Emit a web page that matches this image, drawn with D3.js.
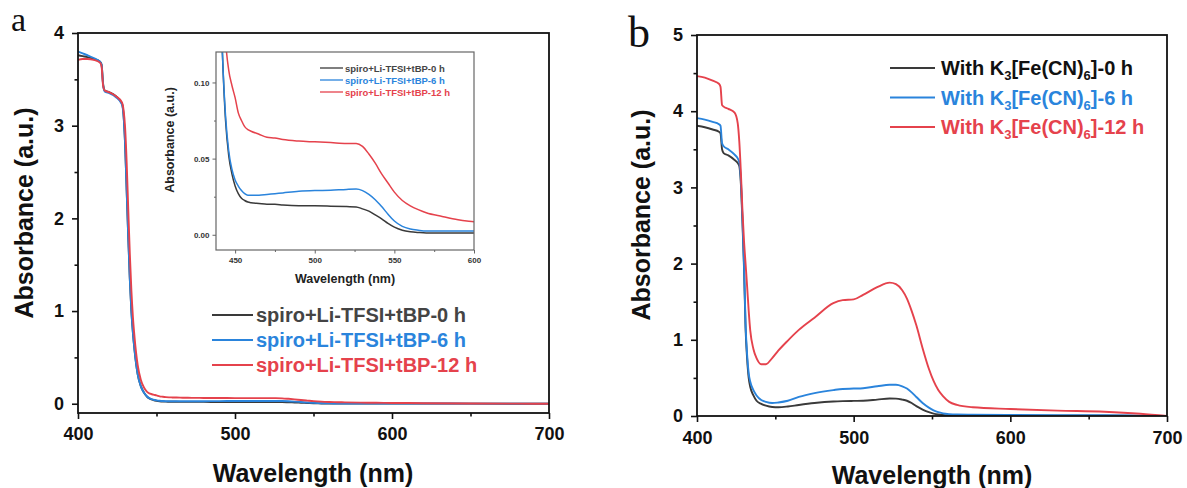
<!DOCTYPE html>
<html><head><meta charset="utf-8">
<script src="https://cdn.jsdelivr.net/npm/d3@7"></script>
<style>body{margin:0;background:#fff}svg{display:block}text{font-family:"Liberation Sans",Arial,Helvetica,sans-serif}text.serif{font-family:"Liberation Serif","DejaVu Serif","Times New Roman",serif}</style>
</head><body>
<svg id="c" width="1187" height="488"></svg>
<script>
// ---------- Panel a data (shared by main plot and inset) ----------
const lamA = [400,403,406,410,414,415,416,417,420,424,428,429,430,431,432,433,434,435,436,438,440,442,444,446,448,450,452,454,456,458,460,465,470,475,480,490,500,510,520,526,530,534,538,542,546,550,555,560,565,570,580,590,600,620,650,680,700];
const a0h = [3.76,3.75,3.74,3.72,3.69,3.66,3.45,3.38,3.36,3.32,3.24,3.12,2.8,2.3,1.8,1.35,1.0,0.76,0.58,0.32,0.19,0.12,0.075,0.052,0.04,0.032,0.027,0.024,0.0225,0.0215,0.021,0.0205,0.020,0.020,0.0195,0.019,0.019,0.0188,0.0185,0.0183,0.017,0.0155,0.013,0.0105,0.0075,0.005,0.003,0.002,0.0015,0.0012,0.0012,0.0012,0.0012,0.001,0.0008,0.0005,0.0003];
const a6h = [3.80,3.78,3.76,3.73,3.69,3.66,3.44,3.37,3.35,3.31,3.23,3.11,2.8,2.3,1.8,1.35,1.0,0.76,0.58,0.32,0.19,0.12,0.078,0.055,0.043,0.036,0.032,0.029,0.027,0.026,0.026,0.026,0.0265,0.027,0.0275,0.0285,0.029,0.0292,0.0298,0.030,0.029,0.0265,0.023,0.0185,0.0135,0.009,0.0055,0.0038,0.003,0.0025,0.0025,0.0025,0.0025,0.002,0.0015,0.001,0.0005];
const a12h = [3.71,3.72,3.72,3.71,3.68,3.64,3.43,3.38,3.36,3.32,3.25,3.17,2.98,2.6,2.1,1.62,1.22,0.93,0.72,0.42,0.26,0.175,0.128,0.108,0.098,0.09,0.08,0.075,0.071,0.069,0.068,0.066,0.064,0.0635,0.0625,0.0615,0.061,0.0605,0.060,0.060,0.058,0.053,0.047,0.040,0.034,0.028,0.0225,0.019,0.0165,0.0145,0.012,0.0098,0.0085,0.006,0.003,0.001,0.0];
const legendA = ["spiro+Li-TFSI+tBP-0 h","spiro+Li-TFSI+tBP-6 h","spiro+Li-TFSI+tBP-12 h"];

// ---------- Panel b data ----------
const lamB = [400,405,410,414,415,416,417,420,424,426,427,428,429,430,431,432,433,434,436,438,441,444,448,452,458,465,475,487,493,500,506,515,523,527,531,534,537,540,544,548,551,554,557,561,566,576,600,630,660,683,700];
const b0h = [3.81,3.79,3.76,3.73,3.71,3.50,3.45,3.42,3.36,3.32,3.28,3.05,2.55,1.95,1.15,0.75,0.5,0.38,0.27,0.2,0.16,0.135,0.118,0.115,0.125,0.145,0.17,0.19,0.195,0.198,0.2,0.215,0.23,0.228,0.215,0.2,0.17,0.13,0.085,0.05,0.032,0.02,0.013,0.009,0.007,0.006,0.005,0.004,0.003,0.002,0.0];
const b6h = [3.91,3.89,3.86,3.83,3.81,3.58,3.54,3.50,3.43,3.38,3.33,3.1,2.6,2.0,1.2,0.8,0.56,0.45,0.34,0.27,0.21,0.185,0.17,0.178,0.2,0.25,0.3,0.34,0.355,0.36,0.365,0.39,0.41,0.41,0.39,0.36,0.31,0.25,0.17,0.11,0.075,0.05,0.035,0.025,0.02,0.018,0.015,0.012,0.009,0.005,0.0];
const b12h = [4.46,4.44,4.40,4.36,4.32,4.08,4.06,4.03,3.98,3.84,3.6,3.2,2.7,2.3,2.0,1.7,1.38,1.12,0.88,0.76,0.68,0.68,0.76,0.86,0.99,1.13,1.29,1.48,1.52,1.53,1.59,1.69,1.75,1.73,1.65,1.54,1.38,1.19,0.89,0.62,0.46,0.34,0.26,0.185,0.145,0.114,0.092,0.07,0.056,0.03,0.0];
const legendB = [["With K","3","[Fe(CN)","6","]-0 h"],["With K","3","[Fe(CN)","6","]-6 h"],["With K","3","[Fe(CN)","6","]-12 h"]];

// ---------- ticks ----------
const xMajor = [400,500,600,700];
const xMinor = [450,550,650];
const yMajorA = [0,1,2,3,4];
const yMinorA = [0.5,1.5,2.5,3.5];
const yMajorB = [0,1,2,3,4,5];
const yMinorB = [0.5,1.5,2.5,3.5,4.5];
const insXMajor = [450,500,550,600];
const insXMinor = [475,525,575];
const insYMajor = [0,0.05,0.10];
const insYMinor = [0.025,0.075];

const colors = ["#3a3a3a","#2a84dc","#e5424c"];
const textColorsA = ["#444444","#2a84dc","#e5424c"];
const textColorsB = ["#111111","#2a84dc","#e5424c"];

const svg = d3.select("#c");

function series(lam, ys){ return ys.map((y,i)=>({x:lam[i], y})); }

function drawFrame(g, x, y, o){
  const [x0,x1] = x.range(), [yb,yt] = y.range();
  g.append("g").attr("transform",`translate(0,${yb})`)
    .call(d3.axisBottom(x).tickValues(o.xMinor).tickSize(o.minor).tickFormat(""))
    .call(s=>s.select(".domain").remove());
  g.append("g").attr("transform",`translate(${x0},0)`)
    .call(d3.axisLeft(y).tickValues(o.yMinor).tickSize(o.minor).tickFormat(""))
    .call(s=>s.select(".domain").remove());
  const gx = g.append("g").attr("transform",`translate(0,${yb})`)
    .call(d3.axisBottom(x).tickValues(o.xMajor).tickSize(o.major).tickPadding(o.xPad).tickFormat(o.xFmt||d3.format("d")));
  const gy = g.append("g").attr("transform",`translate(${x0},0)`)
    .call(d3.axisLeft(y).tickValues(o.yMajor).tickSize(o.major).tickPadding(o.yPad).tickFormat(o.yFmt||d3.format("d")));
  [gx,gy].forEach(a=>{
    a.select(".domain").remove();
    a.selectAll(".tick text").attr("font-size",o.fs).attr("font-weight","bold").attr("fill",o.tc);
  });
  g.selectAll(".tick line").attr("stroke",o.stroke).attr("stroke-width",o.sw);
  g.append("rect").attr("x",x0).attr("y",yt).attr("width",x1-x0).attr("height",yb-yt)
    .attr("fill","none").attr("stroke",o.stroke).attr("stroke-width",o.frameW);
}

function drawLines(g, x, y, lam, sets, sw, clipId){
  const line = d3.line().x(d=>x(d.x)).y(d=>y(d.y)).curve(d3.curveMonotoneX);
  const gg = g.append("g").attr("clip-path",`url(#${clipId})`);
  sets.forEach((ys,i)=>{
    gg.append("path").datum(series(lam,ys)).attr("d",line)
      .attr("fill","none").attr("stroke",colors[i]).attr("stroke-width",sw)
      .attr("stroke-linejoin","round");
  });
}
const defs = svg.append("defs");
function clip(id, x, y){
  const [x0,x1]=x.range(), [yb,yt]=y.range();
  defs.append("clipPath").attr("id",id).append("rect").attr("x",x0).attr("y",yt).attr("width",x1-x0).attr("height",yb-yt);
}

// ================= Panel a =================
const xA = d3.scaleLinear().domain([400,700]).range([78,549]);
const yA = d3.scaleLinear().domain([-0.1,4]).range([413,33]);
const gA = svg.append("g");
clip("clipA", xA, yA);
drawLines(gA, xA, yA, lamA, [a0h,a6h,a12h], 1.9, "clipA");
drawFrame(gA, xA, yA, {xMajor, xMinor, yMajor:yMajorA, yMinor:yMinorA, major:6, minor:3.5, xPad:8, yPad:8,
  fs:18, tc:"#111", stroke:"#111", sw:1.6, frameW:1.8});
gA.append("text").attr("x",313).attr("y",482).attr("text-anchor","middle")
  .attr("font-size",25).attr("font-weight","bold").attr("fill","#111").text("Wavelength (nm)");
gA.append("text").attr("transform","translate(33,213) rotate(-90)").attr("text-anchor","middle")
  .attr("font-size",25).attr("font-weight","bold").attr("fill","#111").text("Absorbance (a.u.)");
svg.append("text").attr("class","serif").attr("x",11).attr("y",31)
  .attr("font-size",34).attr("fill","#111").text("a");

// legend a
legendA.forEach((t,i)=>{
  const yy = 315 + i*25;
  gA.append("line").attr("x1",212).attr("x2",253).attr("y1",yy).attr("y2",yy).attr("stroke",colors[i]).attr("stroke-width",2);
  gA.append("text").attr("x",256).attr("y",yy+7).attr("font-size",20).attr("font-weight","bold")
    .attr("fill",textColorsA[i]).text(t);
});

// inset
const xI = d3.scaleLinear().domain([438,600]).range([216,474]);
const yI = d3.scaleLinear().domain([-0.01,0.12]).range([250,52]);
const gI = svg.append("g");
gI.append("rect").attr("x",216).attr("y",52).attr("width",258).attr("height",198).attr("fill","#fff");
clip("clipI", xI, yI);
drawLines(gI, xI, yI, lamA, [a0h,a6h,a12h], 1.5, "clipI");
drawFrame(gI, xI, yI, {xMajor:insXMajor, xMinor:insXMinor, yMajor:insYMajor, yMinor:insYMinor, major:3.5, minor:2,
  xPad:4, yPad:3, fs:8, tc:"#333", stroke:"#666", sw:1, frameW:1.2, yFmt:d3.format(".2f")});
gI.append("text").attr("x",345).attr("y",283).attr("text-anchor","middle")
  .attr("font-size",12.5).attr("font-weight","bold").attr("fill","#222").text("Wavelength (nm)");
gI.append("text").attr("transform","translate(174,140) rotate(-90)").attr("text-anchor","middle")
  .attr("font-size",12.5).attr("font-weight","bold").attr("fill","#222").text("Absorbance (a.u.)");
legendA.forEach((t,i)=>{
  const yy = 68 + i*12;
  gI.append("line").attr("x1",320).attr("x2",343).attr("y1",yy).attr("y2",yy).attr("stroke",colors[i]).attr("stroke-width",1.3);
  gI.append("text").attr("x",345).attr("y",yy+3.5).attr("font-size",9.5).attr("font-weight","bold")
    .attr("fill",textColorsA[i]).text(t);
});

// ================= Panel b =================
const xB = d3.scaleLinear().domain([400,700]).range([697,1167]);
const yB = d3.scaleLinear().domain([0,5]).range([416,35]);
const gB = svg.append("g");
clip("clipB", xB, yB);
drawLines(gB, xB, yB, lamB, [b0h,b6h,b12h], 1.9, "clipB");
drawFrame(gB, xB, yB, {xMajor, xMinor, yMajor:yMajorB, yMinor:yMinorB, major:6, minor:3.5, xPad:9, yPad:8,
  fs:18, tc:"#111", stroke:"#111", sw:1.6, frameW:1.8});
gB.append("text").attr("x",932).attr("y",484).attr("text-anchor","middle")
  .attr("font-size",25).attr("font-weight","bold").attr("fill","#111").text("Wavelength (nm)");
gB.append("text").attr("transform","translate(650,215) rotate(-90)").attr("text-anchor","middle")
  .attr("font-size",25).attr("font-weight","bold").attr("fill","#111").text("Absorbance (a.u.)");
svg.append("text").attr("class","serif").attr("x",628).attr("y",47)
  .attr("font-size",44).attr("fill","#111").text("b");

legendB.forEach((p,i)=>{
  const yy = 68 + i*29.5;
  gB.append("line").attr("x1",890).attr("x2",935).attr("y1",yy).attr("y2",yy).attr("stroke",colors[i]).attr("stroke-width",2);
  const t = gB.append("text").attr("x",941).attr("y",yy+7).attr("font-size",20).attr("font-weight","bold")
    .attr("fill",textColorsB[i]);
  t.append("tspan").text(p[0]);
  t.append("tspan").attr("font-size",13).attr("dy",5).text(p[1]);
  t.append("tspan").attr("dy",-5).text(p[2]);
  t.append("tspan").attr("font-size",13).attr("dy",5).text(p[3]);
  t.append("tspan").attr("dy",-5).text(p[4]);
});
</script>
</body></html>
